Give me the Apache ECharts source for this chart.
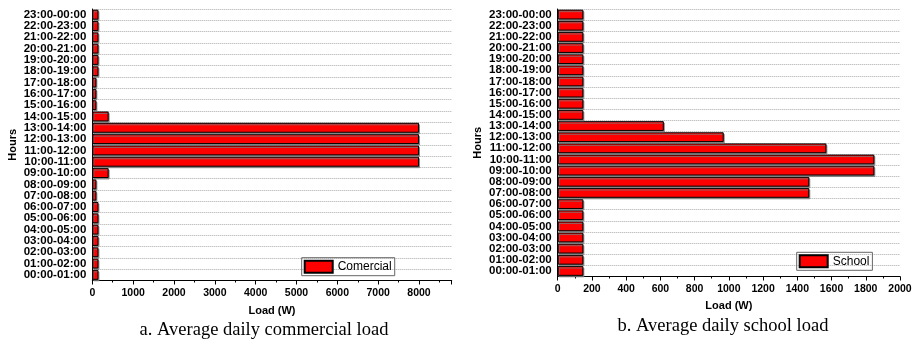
<!DOCTYPE html>
<html>
<head>
<meta charset="utf-8">
<script src="https://cdn.jsdelivr.net/npm/echarts@6/dist/echarts.min.js"></script>
<style>
html, body { margin: 0; padding: 0; background: #fff; }
#main { width: 916px; height: 339px; }
</style>
</head>
<body>
<div id="main"></div>
<script>
var hours = ['00:00-01:00', '01:00-02:00', '02:00-03:00', '03:00-04:00', '04:00-05:00', '05:00-06:00',
	'06:00-07:00', '07:00-08:00', '08:00-09:00', '09:00-10:00', '10:00-11:00', '11:00-12:00',
	'12:00-13:00', '13:00-14:00', '14:00-15:00', '15:00-16:00', '16:00-17:00', '17:00-18:00',
	'18:00-19:00', '19:00-20:00', '20:00-21:00', '21:00-22:00', '22:00-23:00', '23:00-00:00'];
var commercial = [150, 150, 150, 150, 150, 150, 150, 100, 100, 400, 8000, 8000,
	8000, 8000, 400, 100, 100, 100, 150, 150, 150, 150, 150, 150];
var school = [150, 150, 150, 150, 150, 150, 150, 1470, 1470, 1850, 1850, 1570,
	970, 620, 150, 150, 150, 150, 150, 150, 150, 150, 150, 150];
var captions = ['a. Average daily commercial load', 'b. Average daily school load'];

var font = 'Liberation Sans, Arial, sans-serif';

function catAxis(idx) {
	return {
		type: 'category',
		gridIndex: idx,
		data: hours,
		name: 'Hours',
		nameLocation: 'middle',
		nameRotate: 90,
		nameGap: 74,
		nameTextStyle: { fontFamily: font, fontSize: 11, fontWeight: 'bold', color: '#000' },
		axisLine: { lineStyle: { color: '#000', width: 1 } },
		axisTick: { alignWithLabel: true, length: 4, interval: 0, lineStyle: { color: '#000' } },
		axisLabel: { interval: 0, fontFamily: font, fontSize: 11.5, fontWeight: 'bold', color: '#000', margin: 6 },
		splitLine: { show: true, interval: 0, lineStyle: { color: '#aaa', type: 'dotted', width: 1 } }
	};
}

function valAxis(idx, max, interval, gap) {
	return {
		type: 'value',
		gridIndex: idx,
		min: 0,
		max: max,
		interval: interval,
		name: 'Load (W)',
		nameLocation: 'middle',
		nameGap: gap,
		nameTextStyle: { fontFamily: font, fontSize: 11, fontWeight: 'bold', color: '#000' },
		axisLine: { show: true, lineStyle: { color: '#000', width: 1 } },
		axisTick: { show: true, length: 4, lineStyle: { color: '#000' } },
		minorTick: { show: true, splitNumber: 2, length: 2, lineStyle: { color: '#000' } },
		axisLabel: {
			fontFamily: font, fontSize: 10.5, fontWeight: 'bold', color: '#000', margin: 7,
			formatter: function(v) { return v % interval ? '' : v; }
		},
		splitLine: { show: false }
	};
}

function barSeries(name, idx, data) {
	return {
		name: name,
		type: 'bar',
		xAxisIndex: idx,
		yAxisIndex: idx,
		data: data,
		barCategoryGap: '12%',
		itemStyle: {
			color: '#ff0000',
			borderColor: '#000',
			borderWidth: 1,
			shadowColor: 'rgba(120,120,120,0.8)',
			shadowOffsetX: 1,
			shadowOffsetY: 1.5,
			shadowBlur: 0
		}
	};
}

function legend(name, left, top) {
	return {
		data: [name],
		left: left,
		top: top,
		orient: 'horizontal',
		padding: [2, 3, 2, 2],
		itemWidth: 28,
		itemHeight: 12,
		borderColor: '#666',
		borderWidth: 1,
		borderRadius: 0,
		icon: 'rect',
		textStyle: { fontFamily: font, fontSize: 12, color: '#000' }
	};
}

var myChart = echarts.init(document.getElementById('main'));
var option = {
	backgroundColor: '#fff',
	animation: false,
	grid: [
		{ left: 92.3, top: 9, width: 359.4, height: 271.5 },
		{ left: 557.7, top: 9, width: 342.3, height: 267.5 }
	],
	xAxis: [valAxis(0, 8800, 1000, 25), valAxis(1, 2000, 200, 23.5)],
	yAxis: [catAxis(0), catAxis(1)],
	legend: [legend('Comercial', 301.7, 257.7), legend('School', 796.7, 252.3)],
	series: [barSeries('Comercial', 0, commercial), barSeries('School', 1, school)],
	graphic: [
		{ type: 'text', style: { x: 264, y: 330, text: captions[0], textAlign: 'center', textVerticalAlign: 'middle',
			fontFamily: 'Liberation Serif, Times New Roman, serif', fontSize: 18.5, fill: '#000' } },
		{ type: 'text', style: { x: 723, y: 325.7, text: captions[1], textAlign: 'center', textVerticalAlign: 'middle',
			fontFamily: 'Liberation Serif, Times New Roman, serif', fontSize: 18.5, fill: '#000' } }
	]
};
myChart.setOption(option);
</script>
</body>
</html>
